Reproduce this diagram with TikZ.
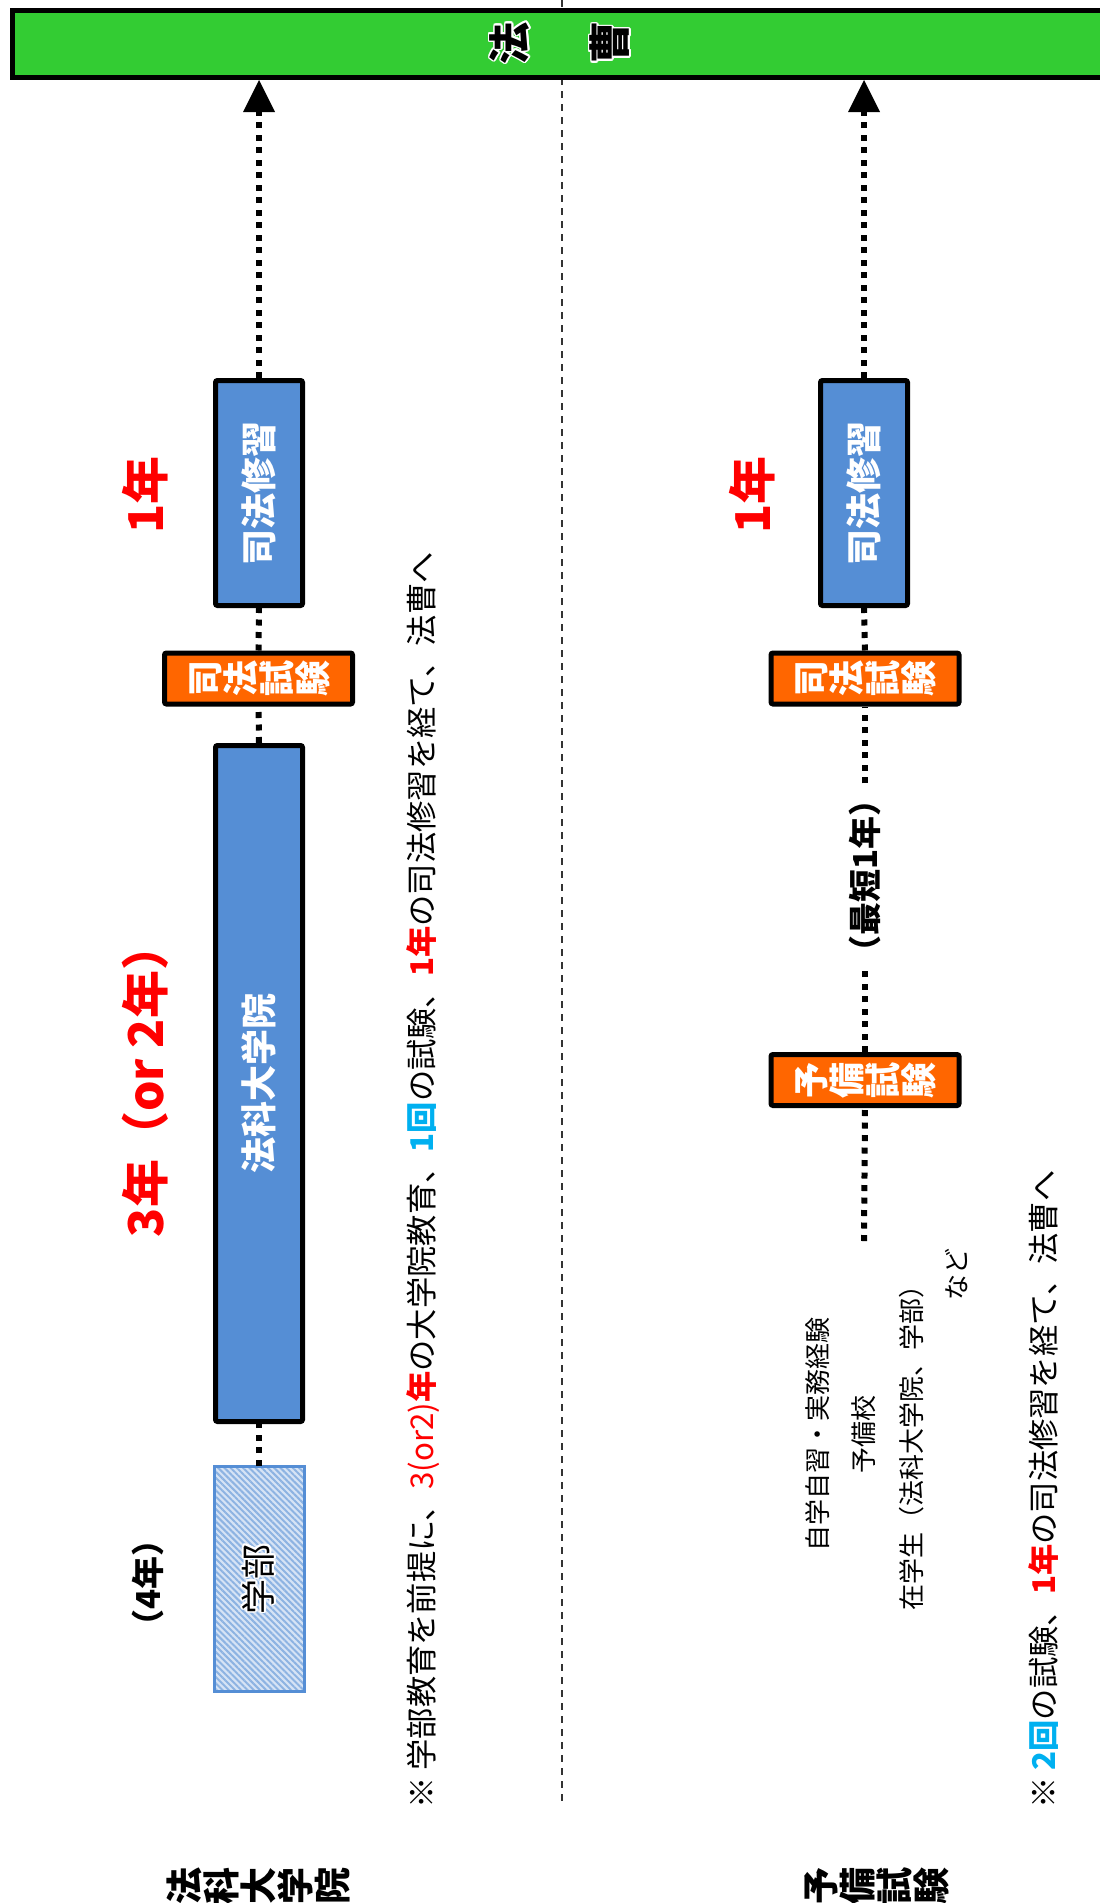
\documentclass[tikz,border=0pt]{standalone}
\usepackage{fontspec}
\setmainfont{Noto Sans CJK JP}
\usepackage{graphicx}
\usepackage{contour}
\contourlength{1.6pt}
\usetikzlibrary{arrows.meta,patterns.meta}
\definecolor{barGreen}{HTML}{33CC33}
\definecolor{boxBlue}{HTML}{558ED5}
\definecolor{exOrange}{HTML}{FF6600}
\definecolor{hiRed}{HTML}{FF0000}
\definecolor{hiCyan}{HTML}{00B0F0}
\definecolor{hatchBlue}{HTML}{8DB3E2}
\definecolor{hatchBack}{HTML}{D6E3F5}
\newcommand\fsz[1]{\fontsize{#1}{#1}\selectfont}
\newcommand\rt[1]{\rotatebox{90}{#1}}
\newcommand\rc[1]{\makebox[1em][c]{\rotatebox[origin=c]{90}{\makebox[1em][c]{\rule[-0.12em]{0pt}{1em}#1}}}}
\tikzset{
  lawbar/.style={draw=black, line width=5pt, fill=barGreen, inner sep=0pt},
  bluebox/.style={draw=black, line width=5pt, fill=boxBlue, rounded corners=2pt, minimum width=87pt, inner sep=0pt, text=white, font=\fsz{36}\bfseries},
  orangebox/.style={draw=black, line width=5pt, fill=exOrange, rounded corners=2pt, minimum width=188pt, minimum height=51pt, inner sep=0pt, text=white, font=\fsz{36}\bfseries},
  hatchbox/.style={draw=boxBlue, line width=3pt, preaction={fill=hatchBack}, pattern={Lines[angle=-45,distance=4.4pt,line width=2pt]}, pattern color=hatchBlue, minimum width=90pt, inner sep=0pt, font=\fsz{35}},
  dotline/.style={line width=6pt, dash pattern=on 6pt off 6.5pt},
  tip/.style={-{Triangle[length=32pt,width=32pt,line width=0pt]}},
  divider/.style={line width=1.3pt, draw=black!80, dash pattern=on 7pt off 6pt},
  yearlbl/.style={text=hiRed, font=\fsz{48}\bfseries, inner sep=0pt, rotate=90},
  blacklbl/.style={font=\fsz{33}\bfseries, inner sep=0pt, rotate=90},
  notetxt/.style={font=\fsz{31.3}, inner sep=0pt, rotate=90, anchor=west},
  listtxt/.style={font=\fsz{26}, inner sep=0pt, rotate=90},
  bottomlbl/.style={font=\fsz{37}\bfseries, inner sep=0pt},
  bartxt/.style={font=\fsz{42}\bfseries, inner sep=0pt}
}
\begin{document}
\begin{tikzpicture}[x=1pt,y=-1pt]
\useasboundingbox (0,0) rectangle (1100,1903);
% divider
\coordinate (divTop) at (562,0);
\coordinate (divBot) at (562,1802);
\draw[divider] (divTop) -- (divBot);
% top bar
\node[lawbar, minimum width=1110pt, minimum height=67pt] (bar) at (567.5,44) {};
\node[bartxt] (bartext) at (560,43) {\rc{\contour{white}{法}}\hspace{58pt}\rc{\contour{white}{曹}}};
% left column
\node[bluebox, minimum height=225pt] (shuL) at (259,493) {\rt{司法修習}};
\node[orangebox] (shikenL) at (258.5,678.5) {\rc{司}\rc{法}\rc{試}\rc{験}};
\node[bluebox, minimum height=676pt] (lsL) at (259,1083.5) {\rt{法科大学院}};
\node[hatchbox, minimum height=225pt] (gakubu) at (259,1579) {\rt{\contour{white}{学部}}};
\draw[dotline] (gakubu.north) -- (lsL.south);
\draw[dotline] (lsL.north) -- (shikenL.south);
\draw[dotline] (shikenL.north) -- (shuL.south);
\draw[dotline, tip] (shuL.north) -- (shuL.north |- bar.south);
% left labels
\node[yearlbl] (y1L) at (145,495) {1年};
\node[yearlbl] (y3L) at (145,1080) {3年（or 2年）};
\node[blacklbl] (y4L) at (148,1583) {（4年）};
% right column
\node[bluebox, minimum height=225pt] (shuR) at (864,493) {\rt{司法修習}};
\node[orangebox] (shikenR) at (865,678.5) {\rc{司}\rc{法}\rc{試}\rc{験}};
\node[orangebox] (yobi) at (865,1080) {\rc{予}\rc{備}\rc{試}\rc{験}};
\node[blacklbl] (saitan) at (865,876) {（最短1年）};
\coordinate (yobiStart) at (864,1241);
\draw[dotline] (yobiStart) -- (yobi.south);
\draw[dotline] (yobi.north) -- (saitan.west);
\draw[dotline] (saitan.east) -- (shikenR.south);
\draw[dotline] (shikenR.north) -- (shuR.south);
\draw[dotline, tip] (shuR.north) -- (shuR.north |- bar.south);
\node[yearlbl] (y1R) at (752,495) {1年};
% list
\node[listtxt] (l1) at (818,1434) {自学自習・実務経験};
\node[listtxt] (l2) at (864,1434) {予備校};
\node[listtxt] (l3) at (912,1441) {在学生（法科大学院、学部）};
\node[listtxt] (l4) at (957,1274) {など};
% notes
\node[notetxt] (note1) at (423,1809) {※ 学部教育を前提に、\textcolor{hiRed}{3(or2)\textbf{年}}の大学院教育、\textcolor{hiCyan}{\textbf{1回}}の試験、\textcolor{hiRed}{\textbf{1年}}の司法修習を経て、法曹へ};
\node[notetxt] (note2) at (1044,1809) {※ \textcolor{hiCyan}{\textbf{2回}}の試験、\textcolor{hiRed}{\textbf{1年}}の司法修習を経て、法曹へ};
% bottom labels
\node[bottomlbl] (botL) at (258,1886) {\rc{法}\rc{科}\rc{大}\rc{学}\rc{院}};
\node[bottomlbl] (botR) at (876,1886) {\rc{予}\rc{備}\rc{試}\rc{験}};
\end{tikzpicture}
\end{document}
